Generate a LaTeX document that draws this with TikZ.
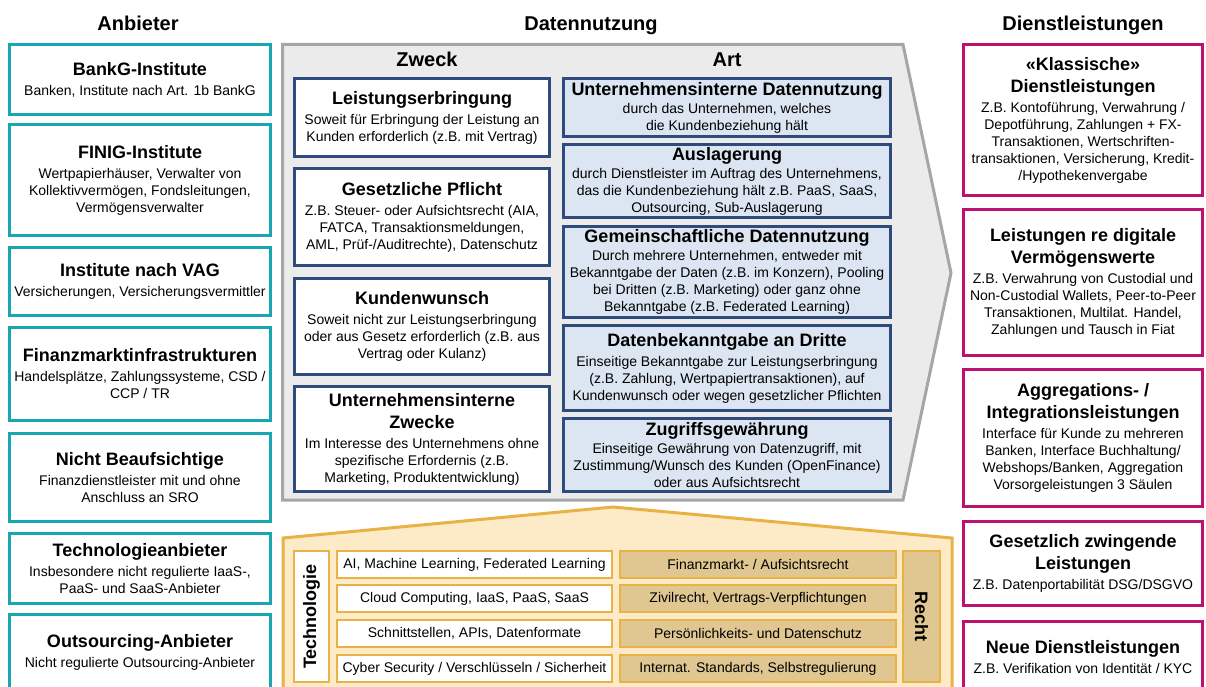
\documentclass[tikz,border=0pt]{standalone}
\usepackage{fontspec}
\setmainfont{Liberation Sans}
\definecolor{tealc}{RGB}{26,166,176}
\definecolor{magc}{RGB}{190,16,110}
\definecolor{navyc}{RGB}{47,74,125}
\definecolor{artfill}{RGB}{220,230,242}
\definecolor{grayfill}{RGB}{235,235,235}
\definecolor{grayline}{RGB}{166,166,166}
\definecolor{orline}{RGB}{232,178,70}
\definecolor{orfill}{RGB}{253,234,199}
\definecolor{tanc}{RGB}{224,198,145}
\newcommand\hd{\fontsize{18}{22}\selectfont\bfseries}
\newcommand\bd{\fontsize{14}{17}\selectfont}
\begin{document}
\begin{tikzpicture}[x=1pt,y=-1pt,
  box/.style={draw, line width=3pt, fill=white, align=center, inner sep=0pt, font=\bd},
  anb/.style={box, draw=tealc, minimum width=261pt},
  dl/.style={box, draw=magc, minimum width=239pt},
  zw/.style={box, draw=navyc, minimum width=255pt},
  art/.style={box, draw=navyc, fill=artfill, minimum width=327pt},
  trow/.style={draw=orline, line width=2pt, fill=white, inner sep=0pt, font=\bd},
  rrow/.style={trow, fill=tanc},
  title/.style={font=\fontsize{20}{24}\selectfont\bfseries, anchor=base},
]
\useasboundingbox (0,0) rectangle (1206,687);
\clip (0,0) rectangle (1206,687);

% titles
\node[title] (tA) at (138,31) {Anbieter};
\node[title] (tD) at (591,31) {Datennutzung};
\node[title] (tS) at (1083,31) {Dienstleistungen};

% gray arrow
\draw[grayline, fill=grayfill, line width=3pt, line join=miter] (282.5,44.5) -- (903,44.5) -- (951,273) -- (903,500) -- (282.5,500) -- cycle;
\node[title] (tZ) at (427,67) {Zweck};
\node[title] (tArt) at (727,67) {Art};

% Anbieter
\node[anb, minimum height=70pt] (a1) at (140,79.5) {{\hd BankG-Institute}\\[3pt] Banken, Institute nach Art. 1b BankG};
\node[anb, minimum height=111pt] (a2) at (140,180) {{\hd FINIG-Institute}\\[3pt] Wertpapierhäuser, Verwalter von\\ Kollektivvermögen, Fondsleitungen,\\ Vermögensverwalter};
\node[anb, minimum height=68pt] (a3) at (140,281.5) {{\hd Institute nach VAG}\\[3pt] Versicherungen, Versicherungsvermittler};
\node[anb, minimum height=93pt] (a4) at (140,374) {{\hd Finanzmarktinfrastrukturen}\\[3pt] Handelsplätze, Zahlungssysteme, CSD /\\ CCP / TR};
\node[anb, minimum height=88pt] (a5) at (140,477.5) {{\hd Nicht Beaufsichtige}\\[3pt] Finanzdienstleister mit und ohne\\ Anschluss an SRO};
\node[anb, minimum height=70pt] (a6) at (140,568.5) {{\hd Technologieanbieter}\\[3pt] Insbesondere nicht regulierte IaaS-,\\ PaaS- und SaaS-Anbieter};
\node[anb, minimum height=76pt] (a7) at (140,652.5) {{\hd Outsourcing-Anbieter}\\[3pt] Nicht regulierte Outsourcing-Anbieter};

% Dienstleistungen
\node[dl, minimum height=151pt] (d1) at (1083,120) {{\hd «Klassische»}\\[5pt] {\hd Dienstleistungen}\\[3pt] Z.B. Kontoführung, Verwahrung /\\ Depotführung, Zahlungen + FX-\\ Transaktionen, Wertschriften-\\ transaktionen, Versicherung, Kredit-\\ /Hypothekenvergabe};
\node[dl, minimum height=146pt] (d2) at (1083,282.5) {{\hd Leistungen re digitale}\\[5pt] {\hd Vermögenswerte}\\[3pt] Z.B. Verwahrung von Custodial und\\ Non-Custodial Wallets, Peer-to-Peer\\ Transaktionen, Multilat. Handel,\\ Zahlungen und Tausch in Fiat};
\node[dl, minimum height=137pt] (d3) at (1083,438) {{\hd Aggregations- /}\\[5pt] {\hd Integrationsleistungen}\\[3pt] Interface für Kunde zu mehreren\\ Banken, Interface Buchhaltung/\\ Webshops/Banken, Aggregation\\ Vorsorgeleistungen 3 Säulen};
\node[dl, minimum height=84pt] (d4) at (1083,563.5) {{\hd Gesetzlich zwingende}\\[5pt] {\hd Leistungen}\\[3pt] Z.B. Datenportabilität DSG/DSGVO};
\node[dl, minimum height=71pt] (d5) at (1083,657) {{\hd Neue Dienstleistungen}\\[3pt] Z.B. Verifikation von Identität / KYC};

% Zweck
\node[zw, minimum height=78pt] (z1) at (422,117.5) {{\hd Leistungserbringung}\\[3pt] Soweit für Erbringung der Leistung an\\ Kunden erforderlich (z.B. mit Vertrag)};
\node[zw, minimum height=97pt] (z2) at (422,217) {{\hd Gesetzliche Pflicht}\\[3pt] Z.B. Steuer- oder Aufsichtsrecht (AIA,\\ FATCA, Transaktionsmeldungen,\\ AML, Prüf-/Auditrechte), Datenschutz};
\node[zw, minimum height=96pt] (z3) at (422,326.5) {{\hd Kundenwunsch}\\[3pt] Soweit nicht zur Leistungserbringung\\ oder aus Gesetz erforderlich (z.B. aus\\ Vertrag oder Kulanz)};
\node[zw, minimum height=105pt] (z4) at (422,439) {{\hd Unternehmensinterne}\\[5pt] {\hd Zwecke}\\[3pt] Im Interesse des Unternehmens ohne\\ spezifische Erfordernis (z.B.\\ Marketing, Produktentwicklung)};

% Art
\node[art, minimum height=58pt] (r1) at (727,107.5) {{\hd Unternehmensinterne Datennutzung}\\[1pt] durch das Unternehmen, welches\\ die Kundenbeziehung hält};
\node[art, minimum height=73pt] (r2) at (727,181) {{\hd Auslagerung}\\[1pt] durch Dienstleister im Auftrag des Unternehmens,\\ das die Kundenbeziehung hält z.B. PaaS, SaaS,\\ Outsourcing, Sub-Auslagerung};
\node[art, minimum height=91pt] (r3) at (727,272) {{\hd Gemeinschaftliche Datennutzung}\\[1pt] Durch mehrere Unternehmen, entweder mit\\ Bekanntgabe der Daten (z.B. im Konzern), Pooling\\ bei Dritten (z.B. Marketing) oder ganz ohne\\ Bekanntgabe (z.B. Federated Learning)};
\node[art, minimum height=85pt] (r4) at (727,368) {{\hd Datenbekanntgabe an Dritte}\\[3pt] Einseitige Bekanntgabe zur Leistungserbringung\\ (z.B. Zahlung, Wertpapiertransaktionen), auf\\ Kundenwunsch oder wegen gesetzlicher Pflichten};
\node[art, minimum height=73pt] (r5) at (727,455) {{\hd Zugriffsgewährung}\\[1pt] Einseitige Gewährung von Datenzugriff, mit\\ Zustimmung/Wunsch des Kunden (OpenFinance)\\ oder aus Aufsichtsrecht};

% orange house
\draw[orline, fill=orfill, line width=3pt, line join=miter] (283,720) -- (283,538) -- (613,507) -- (952,538) -- (952,720) -- cycle;

\node[trow, rotate=90, minimum width=131pt, minimum height=35pt, font=\hd] (tech) at (311.5,616.5) {Technologie};
\node[rrow, rotate=-90, minimum width=131pt, minimum height=37pt, font=\hd] (recht) at (921.5,616.5) {Recht};

\node[trow, minimum width=275pt, minimum height=27pt] (t1) at (474.5,564.5) {AI, Machine Learning, Federated Learning};
\node[trow, minimum width=275pt, minimum height=27pt] (t2) at (474.5,598.5) {Cloud Computing, IaaS, PaaS, SaaS};
\node[trow, minimum width=275pt, minimum height=27pt] (t3) at (474.5,633.5) {Schnittstellen, APIs, Datenformate};
\node[trow, minimum width=275pt, minimum height=27pt] (t4) at (474.5,668.5) {Cyber Security / Verschlüsseln / Sicherheit};

\node[rrow, minimum width=276pt, minimum height=27pt] (l1) at (758,564.5) {Finanzmarkt- / Aufsichtsrecht};
\node[rrow, minimum width=276pt, minimum height=27pt] (l2) at (758,598.5) {Zivilrecht, Vertrags-Verpflichtungen};
\node[rrow, minimum width=276pt, minimum height=27pt] (l3) at (758,633.5) {Persönlichkeits- und Datenschutz};
\node[rrow, minimum width=276pt, minimum height=27pt] (l4) at (758,668.5) {Internat. Standards, Selbstregulierung};
\end{tikzpicture}
\end{document}
